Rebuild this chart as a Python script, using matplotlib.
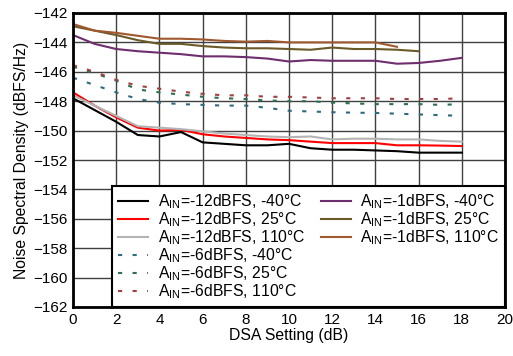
import matplotlib
matplotlib.use("Agg")
import matplotlib.pyplot as plt
from matplotlib.lines import Line2D

plt.rcParams['font.family'] = ['Liberation Sans', 'DejaVu Sans']
plt.rcParams['mathtext.fontset'] = 'custom'
plt.rcParams['mathtext.rm'] = 'Liberation Sans'

dsa = list(range(19))

n12_m40 = [-147.8, -148.6, -149.4, -150.3, -150.4, -150.1, -150.8, -150.9, -151.0, -151.0,
           -150.9, -151.2, -151.3, -151.3, -151.35, -151.4, -151.5, -151.5, -151.5]
n12_25 = [-147.4, -148.3, -149.1, -149.8, -150.0, -149.95, -150.25, -150.4, -150.5, -150.6,
          -150.65, -150.75, -150.85, -150.85, -150.85, -151.0, -151.0, -151.02, -151.05]
n12_110 = [-147.6, -148.3, -149.0, -149.7, -149.8, -149.9, -150.05, -150.2, -150.3, -150.4,
           -150.45, -150.4, -150.6, -150.55, -150.55, -150.6, -150.6, -150.7, -150.75]
n6_m40 = [-146.4, -146.9, -147.4, -147.85, -148.1, -148.2, -148.25, -148.3, -148.3, -148.45,
          -148.65, -148.7, -148.75, -148.78, -148.8, -148.85, -148.9, -148.95, -149.0]
n6_25 = [-145.65, -146.1, -146.6, -147.2, -147.4, -147.55, -147.7, -147.8, -147.85, -147.95,
         -148.0, -148.0, -148.1, -148.15, -148.2, -148.2, -148.2, -148.25, -148.2]
n6_110 = [-145.55, -146.0, -146.55, -146.95, -147.15, -147.35, -147.5, -147.6, -147.6, -147.7,
          -147.7, -147.75, -147.8, -147.8, -147.8, -147.85, -147.85, -147.85, -147.8]
n1_m40 = [-143.5, -144.1, -144.45, -144.6, -144.7, -144.8, -144.95, -144.95, -145.0, -145.1,
          -145.3, -145.2, -145.25, -145.25, -145.25, -145.45, -145.4, -145.25, -145.05]
n1_25 = [-142.9, -143.2, -143.5, -143.85, -144.1, -144.1, -144.25, -144.35, -144.4, -144.4,
         -144.45, -144.5, -144.35, -144.45, -144.45, -144.5, -144.6]
n1_110 = [-142.75, -143.2, -143.35, -143.55, -143.75, -143.75, -143.8, -143.9, -143.95, -143.9,
          -144.0, -144.0, -144.0, -144.0, -144.0, -144.3]

labels = [r"A$_\mathregular{IN}$=-12dBFS, -40°C", r"A$_\mathregular{IN}$=-12dBFS, 25°C",
          r"A$_\mathregular{IN}$=-12dBFS, 110°C", r"A$_\mathregular{IN}$=-6dBFS, -40°C",
          r"A$_\mathregular{IN}$=-6dBFS, 25°C", r"A$_\mathregular{IN}$=-6dBFS, 110°C",
          r"A$_\mathregular{IN}$=-1dBFS, -40°C", r"A$_\mathregular{IN}$=-1dBFS, 25°C",
          r"A$_\mathregular{IN}$=-1dBFS, 110°C"]
xticks = list(range(0, 21, 2))
yticks = list(range(-162, -141, 2))

fig = plt.figure(figsize=(5.13, 3.56), dpi=100)
ax = fig.add_axes([73/513, 49/356, 432/513, 294/356])

series = [n12_m40, n12_25, n12_110, n6_m40, n6_25, n6_110, n1_m40, n1_25, n1_110]
colors = ['#000000', '#FF0000', '#B4B4B4', '#2E6A80', '#2E7050', '#A04040',
          '#6E2E6E', '#6B5A28', '#A0582E']
styles = ['-', '-', '-', (0, (2, 5)), (0, (2, 5)), (0, (2, 5)), '-', '-', '-']
handles = []
for s, c, ls, lab in zip(series, colors, styles, labels):
    h, = ax.plot(dsa[:len(s)], s, color=c, ls=ls, lw=1.5, label=lab)
    handles.append(h)

ax.set_xlim(0, 20)
ax.set_ylim(-162, -142)
ax.set_xticks(xticks)
ax.set_yticks(yticks)
ax.grid(True, color='#404040', lw=1)
ax.set_axisbelow(True)
for sp in ax.spines.values():
    sp.set_linewidth(2)
ax.tick_params(length=0, labelsize=11, pad=4)
ax.set_xlabel("DSA Setting (dB)", fontsize=11.3, labelpad=1)
ax.set_ylabel("Noise Spectral Density (dBFS/Hz)", fontsize=11.3, labelpad=3)

blank = [Line2D([], [], alpha=0) for _ in range(3)]
leg_handles = handles + blank
leg_labels = labels + [''] * 3
leg = ax.legend(leg_handles, leg_labels, ncol=2, loc='lower right', fontsize=11.3,
                frameon=True, fancybox=False, edgecolor='black', framealpha=1,
                borderaxespad=0, handlelength=1.9, handletextpad=0.6,
                columnspacing=1.0, labelspacing=-0.05, borderpad=0.4)
leg.get_frame().set_linewidth(1.5)

fig.savefig("out.png", dpi=100)
